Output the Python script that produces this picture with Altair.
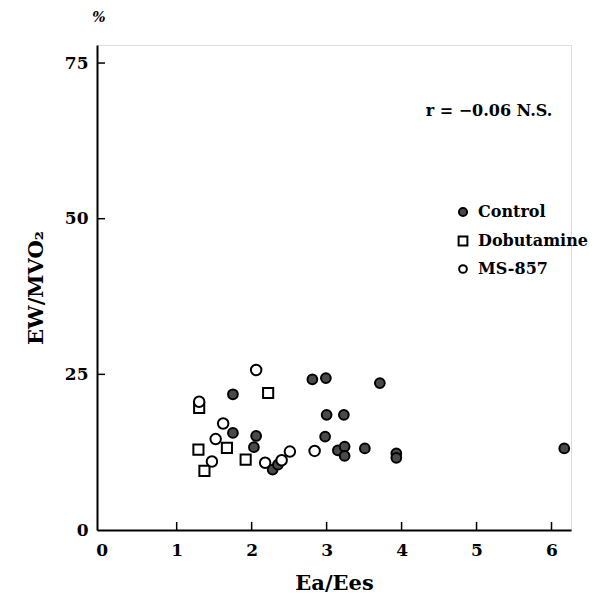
import altair as alt
import pandas as pd

# Data
control_x = [1.75, 1.75, 2.06, 2.03, 2.81, 2.99, 3.00, 3.23, 2.98, 3.15, 3.24, 3.24, 3.71, 3.51, 3.93, 3.93, 6.17, 2.28, 2.35]
control_y = [21.8, 15.6, 15.1, 13.3, 24.2, 24.4, 18.5, 18.5, 15.0, 12.8, 13.4, 11.9, 23.6, 13.1, 12.3, 11.6, 13.1, 9.7, 10.5]
dobut_x = [1.29, 1.37, 1.67, 1.92, 2.22, 1.30]
dobut_y = [12.9, 9.5, 13.2, 11.3, 22.0, 19.6]
ms_x = [2.06, 1.62, 1.52, 1.47, 2.18, 2.51, 2.84, 1.30, 2.40]
ms_y = [25.7, 17.1, 14.6, 11.0, 10.8, 12.6, 12.7, 20.6, 11.2]

groups = ["Control", "Dobutamine", "MS-857"]
shapes = ["circle", "square", "circle"]
fills = ["#4a4a4a", "white", "white"]
sizes = [95, 110, 85]
x_ticks = [1, 2, 3, 4, 5, 6]
y_ticks = [25, 50, 75]

rows = []
for g, xs_, ys_ in [("Control", control_x, control_y), ("Dobutamine", dobut_x, dobut_y), ("MS-857", ms_x, ms_y)]:
    for a, b in zip(xs_, ys_):
        rows.append({"x": a, "y": b, "group": g})
df = pd.DataFrame(rows)

FONT = "DejaVu Serif"
xdom = [-0.063, 6.26]
ydom = [0, 77.9]
xs = alt.Scale(domain=xdom, nice=False, zero=False)
ys = alt.Scale(domain=ydom, nice=False)

points = alt.Chart(df).mark_point(filled=False, strokeWidth=2, opacity=1).encode(
    x=alt.X("x:Q", scale=xs, title="Ea/Ees",
            axis=alt.Axis(values=[0] + x_ticks, format="d", ticks=False, grid=False, domainColor="black",
                          domainWidth=2, labelFont=FONT, labelFontWeight="bold", labelFontSize=17,
                          labelColor="black", labelPadding=12, titleFont=FONT, titleFontWeight="bold",
                          titleFontSize=21, titleColor="black", titlePadding=14)),
    y=alt.Y("y:Q", scale=ys, title="EW/MVO₂",
            axis=alt.Axis(values=[0] + y_ticks, ticks=False, grid=False, domainColor="black", domainWidth=2,
                          labelFont=FONT, labelFontWeight="bold", labelFontSize=17, labelColor="black",
                          labelPadding=9, titleFont=FONT, titleFontWeight="bold", titleFontSize=21,
                          titleColor="black", titlePadding=18)),
    shape=alt.Shape("group:N", scale=alt.Scale(domain=groups, range=shapes), legend=None),
    fill=alt.Fill("group:N", scale=alt.Scale(domain=groups, range=fills), legend=None),
    stroke=alt.value("black"),
    size=alt.Size("group:N", scale=alt.Scale(domain=groups, range=sizes), legend=None),
)

xt = pd.DataFrame({"t": x_ticks})
x_tick_rules = alt.Chart(xt).mark_rule(color="black", strokeWidth=1.5).encode(
    x=alt.X("t:Q", scale=xs), y=alt.value(485), y2=alt.value(477))
yt = pd.DataFrame({"t": y_ticks})
y_tick_rules = alt.Chart(yt).mark_rule(color="black", strokeWidth=1.5).encode(
    y=alt.Y("t:Q", scale=ys), x=alt.value(0), x2=alt.value(8))

ann = alt.Chart(pd.DataFrame({"t": ["r = −0.06    N.S."]})).mark_text(
    font=FONT, fontWeight="bold", fontSize=16, color="black").encode(
    x=alt.value(392), y=alt.value(66), text="t:N")

pct = alt.Chart(pd.DataFrame({"t": ["%"]})).mark_text(
    font=FONT, fontStyle="italic", fontWeight="bold", fontSize=14, color="black", baseline="middle").encode(
    x=alt.value(2), y=alt.value(-27), text="t:N")

# manual legend
legend_layers = []
leg_y = [167, 196, 224]
for g, shp, fl, sz, ly in zip(groups, shapes, fills, sizes, leg_y):
    d = pd.DataFrame({"t": [g]})
    sym = alt.Chart(d).mark_point(shape=shp, filled=False, fill=fl, stroke="black", strokeWidth=2,
                                  size=sz * 0.7, opacity=1).encode(x=alt.value(366), y=alt.value(ly))
    lab = alt.Chart(d).mark_text(font=FONT, fontWeight="bold", fontSize=16, color="black",
                                 align="left", baseline="middle").encode(
        x=alt.value(381), y=alt.value(ly), text="t:N")
    legend_layers += [sym, lab]

chart = alt.layer(points, x_tick_rules, y_tick_rules, ann, pct, *legend_layers).properties(
    width=474, height=485, autosize=alt.AutoSizeParams(type="none"),
    padding={"left": 89, "top": 37, "right": 22, "bottom": 70}
).configure_view(stroke=None).configure(background="white")

chart.save("out.html", embed_options={"renderer": "svg", "actions": False})
